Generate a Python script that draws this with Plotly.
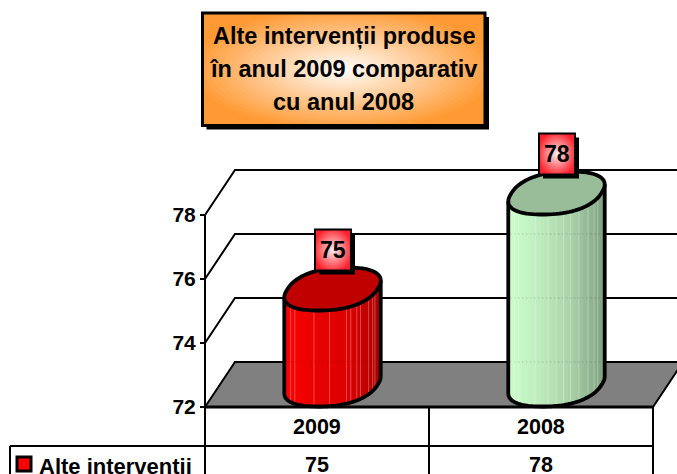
import numpy as np
import plotly.graph_objects as go

# ---- data ----
years = ["2009", "2008"]
values = [75, 78]
tick_vals = [72, 74, 76, 78]
series_name = "Alte intervenții"
title_lines = ["Alte intervenții produse", "în anul 2009 comparativ", "cu anul 2008"]

# ---- styles ----
W, H = 677, 474
BASE = 72
Y0 = 407          # pixel row of the axis base
UNIT = 32         # pixels per value unit
CAT0, CATW = 317, 224   # centre of first category band / band width on the front edge
DX, DY = 30, -45  # 3-D depth vector in pixels
FONT = "Liberation Sans"
shades = [
    dict(stops=[(255, 0, 0), (232, 0, 0), (222, 0, 0), (168, 0, 0)], top="#C00000", streak="rgba(255,190,190,0.38)"),
    dict(stops=[(204, 255, 204), (190, 236, 190), (168, 208, 168), (128, 160, 128)], top="#99BD99", streak="rgba(255,255,255,0.30)"),
]
streaks = [[6, 11, 29, 46, 62, 66, 72, 77, 84, 88, 91],
           [6, 11, 26, 39, 47, 55, 63, 71, 79, 86, 90]]


def xd(p):            # pixel column -> x axis unit
    return (p - CAT0) / CATW


def yd(p):            # pixel row -> y axis unit
    return BASE + (Y0 - p) / UNIT


def vx(i, off=0):     # category position plus pixel offset
    return i + off / CATW


def vy(v, off=0):     # value plus pixel offset (down positive)
    return v - off / UNIT


def mix(stops, f):
    f = min(max(f, 0), 1) * (len(stops) - 1)
    k = min(int(f), len(stops) - 2)
    g = f - k
    c = [round(stops[k][n] * (1 - g) + stops[k + 1][n] * g) for n in range(3)]
    return f"rgb({c[0]},{c[1]},{c[2]})"


fig = go.Figure()


def poly(xs, ys, fill=None, line="black", width=2, dash=None, close=False):
    fig.add_trace(go.Scatter(
        x=xs, y=ys, mode="lines", hoverinfo="skip", showlegend=False,
        fill="toself" if close else None, fillcolor=fill,
        line=dict(color=line, width=width, dash=dash, simplify=False)))


# floor
front_l, front_r = vx(0, 205 - CAT0), vx(1, 653 - (CAT0 + CATW))
poly([front_l, vx(0, 235 - CAT0), vx(1, 683 - (CAT0 + CATW)), front_r, front_l],
     [vy(BASE), vy(BASE, DY), vy(BASE, DY), vy(BASE), vy(BASE)], fill="#808080", width=2, close=True)

# walls and grid
poly([front_l, front_l], [BASE, tick_vals[-1]], width=2)
for t in tick_vals:
    if t != BASE:
        poly([front_l, vx(0, 235 - CAT0), vx(1, 690 - (CAT0 + CATW))], [vy(t), vy(t, DY), vy(t, DY)], width=2)

# cylinders: slightly squared ellipse seen in perspective
A, DPX, DPY, P = 45, 14, -21.5, 0.86
MID_X, MID_Y = 15.5, -22
tt = np.linspace(0, 2 * np.pi, 721)[:-1]
cc, ss = np.cos(tt), np.sin(tt)
ux = np.sign(cc) * np.abs(cc) ** P
uy = np.sign(ss) * np.abs(ss) ** P
ring_x = MID_X + A * ux + DPX * uy
ring_y = MID_Y + DPY * uy
i_left, i_right = int(np.argmin(ring_x)), int(np.argmax(ring_x))
front = np.arange(i_left, i_right + 721 if i_right < i_left else i_right + 1) % 720
front = front[np.linspace(0, len(front) - 1, 61).astype(int)]
for i, v in enumerate(values):
    s = shades[i]
    ex, ey = ring_x[front], ring_y[front]
    xs = vx(i, ex)
    yb = vy(BASE, ey)
    yt = vy(v, ey)
    xmin, xmax = ex.min(), ex.max()
    for k in range(len(front) - 1):
        f = ((ex[k] + ex[k + 1]) / 2 - xmin) / (xmax - xmin)
        col = mix(s["stops"], f)
        poly([xs[k], xs[k + 1], xs[k + 1], xs[k], xs[k]],
             [yb[k], yb[k + 1], yt[k + 1], yt[k], yb[k]],
             fill=col, line=col, width=1, close=True)
    # fine vertical streaks
    for off in streaks[i]:
        q = np.argmin(np.abs(ex - (xmin + off)))
        poly([xs[q], xs[q]], [yb[q], yt[q]], line=s["streak"], width=1)
    # back-wall grid showing through
    for t in [BASE] + tick_vals[1:]:
        if vy(t, DY) < v - 0.4:
            xa, xb = vx(i, xmin + 2), vx(i, xmax - 2)
            poly([xa, xb], [vy(t, DY)] * 2, line="rgba(0,0,0,0.22)", width=1, dash="1px,3px")
    # silhouette
    poly(np.r_[xs[0], xs, xs[-1]], np.r_[yt[0], yb, yt[-1]], width=3.8)
    # top face
    poly(vx(i, np.r_[ring_x[::8], ring_x[0]]), vy(v, np.r_[ring_y[::8], ring_y[0]]),
         fill=s["top"], width=3.8, close=True)

shapes = []


def rect(x0, y0, x1, y1, fill, line=None, lw=0):
    shapes.append(dict(type="rect", xref="x", yref="y", x0=xd(x0), x1=xd(x1), y0=yd(y0), y1=yd(y1),
                       fillcolor=fill, line=dict(color=line or "rgba(0,0,0,0)", width=lw), layer="above"))


def gradient_box(x0, y0, x1, y1, edge, shadow, lw, layers=26, reach=1.22, power=1.15):
    rect(x0 + shadow, y0 + shadow, x1 + shadow, y1 + shadow, "black")
    rect(x0, y0, x1, y1, mix([edge, edge], 0))
    cx, cy, hw, hh = (x0 + x1) / 2, (y0 + y1) / 2, (x1 - x0) / 2, (y1 - y0) / 2
    th = np.linspace(0, 2 * np.pi, 60)
    for n in range(layers):
        g = 1 - n / layers
        r = reach * g
        c = mix([(255, 255, 255), edge], g ** power)
        px_ = np.clip(cx + r * hw * np.cos(th), x0, x1)
        py_ = np.clip(cy + r * hh * np.sin(th), y0, y1)
        path = "M " + " L ".join(f"{xd(a):.5f},{yd(b):.5f}" for a, b in zip(px_, py_)) + " Z"
        shapes.append(dict(type="path", xref="x", yref="y", path=path, fillcolor=c,
                           line=dict(width=0), layer="above"))
    rect(x0, y0, x1, y1, "rgba(0,0,0,0)", "black", lw)


# table lines
def hline(x0, x1, y, w=2):
    shapes.append(dict(type="line", xref="x", yref="y", x0=xd(x0), x1=xd(x1), y0=yd(y), y1=yd(y),
                       line=dict(color="black", width=w), layer="above"))


def vline(x, y0, y1, w=2):
    shapes.append(dict(type="line", xref="x", yref="y", x0=xd(x), x1=xd(x), y0=yd(y0), y1=yd(y1),
                       line=dict(color="black", width=w), layer="above"))


hline(205, 653, 407, 3)
hline(10, 653, 446, 2)
for xp in (205, 429, 653):
    vline(xp, 407, 474)
vline(10, 446, 474)
# legend key
rect(17, 457, 31, 471, "#FF0000", "black", 3)

# value flags
for i, v in enumerate(values):
    cx = CAT0 + CATW * i + 16
    cy = Y0 - (v - BASE) * UNIT - 22 - 39
    gradient_box(cx - 18, cy - 20.5, cx + 18, cy + 20.5, (250, 35, 45), 4, 2, layers=14, reach=1.15, power=0.9)

# title
gradient_box(202.5, 13, 485, 125.5, (255, 153, 51), 4, 3, reach=1.12, power=1.0)

ann = []


def text(xp, yp, s, size, anchor="center"):
    ann.append(dict(x=xd(xp), y=yd(yp), xref="x", yref="y", text=s, showarrow=False,
                    xanchor=anchor, yanchor="middle", align="center",
                    font=dict(family=FONT, size=size, color="black")))


for n, line in enumerate(title_lines):
    text(343.5, 36 + 33 * n, f"<b>{line}</b>", 23.5)
for i, v in enumerate(values):
    cx = CAT0 + CATW * i + 16
    cy = Y0 - (v - BASE) * UNIT - 22 - 39
    text(cx, cy, f"<b>{v}</b>", 23)
    text(CAT0 + CATW * i, 427, f"<b>{years[i]}</b>", 21.5)
    text(CAT0 + CATW * i, 465, f"<b>{v}</b>", 21.5)
text(37, 466, f"<b>{series_name}</b>", 22, "left")

fig.update_layout(
    width=W, height=H, margin=dict(l=0, r=0, t=0, b=0), autosize=False,
    paper_bgcolor="white", plot_bgcolor="white", showlegend=False,
    shapes=shapes, annotations=ann,
    xaxis=dict(range=[xd(0), xd(W)], visible=False, fixedrange=True),
    yaxis=dict(range=[yd(H), yd(0)], anchor="free", position=205 / W, showgrid=False, zeroline=False,
               showline=False, tickmode="array", tickvals=tick_vals, ticktext=[str(t) for t in tick_vals],
               ticks="outside", ticklen=5, tickwidth=2, tickcolor="black",
               tickfont=dict(family=FONT, size=21, color="black", weight="bold"), fixedrange=True),
)
fig.write_html("out.html", config=dict(displayModeBar=False),
               post_script="document.body.style.margin='0';document.body.style.overflow='hidden';")
